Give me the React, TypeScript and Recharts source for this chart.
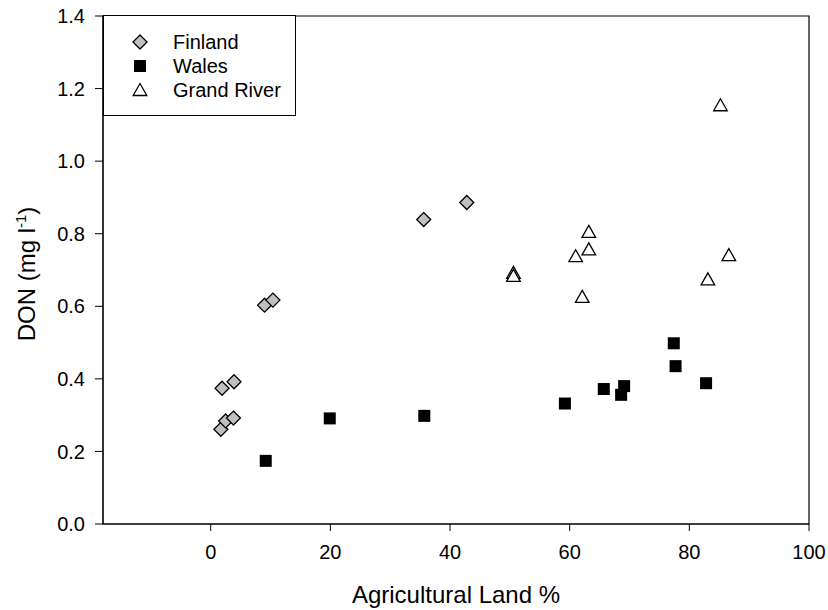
import React from "react"
import { ScatterChart, Scatter, XAxis, YAxis, Legend, ReferenceArea } from "recharts"

// agricultural land (%) vs dissolved organic nitrogen (mg l-1)
const finland = [
  { x: 1.7, y: 0.261 },
  { x: 2.5, y: 0.284 },
  { x: 3.8, y: 0.292 },
  { x: 1.9, y: 0.374 },
  { x: 3.9, y: 0.392 },
  { x: 9.0, y: 0.603 },
  { x: 10.4, y: 0.617 },
  { x: 35.6, y: 0.839 },
  { x: 42.8, y: 0.886 },
]

const wales = [
  { x: 9.2, y: 0.174 },
  { x: 19.9, y: 0.291 },
  { x: 35.7, y: 0.298 },
  { x: 59.2, y: 0.332 },
  { x: 65.7, y: 0.372 },
  { x: 68.6, y: 0.356 },
  { x: 69.1, y: 0.38 },
  { x: 77.4, y: 0.498 },
  { x: 77.7, y: 0.435 },
  { x: 82.8, y: 0.388 },
]

const grandRiver = [
  { x: 50.6, y: 0.692 },
  { x: 50.6, y: 0.684 },
  { x: 61.0, y: 0.738 },
  { x: 62.1, y: 0.626 },
  { x: 63.2, y: 0.757 },
  { x: 63.2, y: 0.805 },
  { x: 83.1, y: 0.674 },
  { x: 85.2, y: 1.154 },
  { x: 86.6, y: 0.741 },
]

const xTicks = [0, 20, 40, 60, 80, 100]
const yTicks = [0, 0.2, 0.4, 0.6, 0.8, 1.0, 1.2, 1.4]
const xDomain = [-18, 100]
const yDomain = [0, 1.4]

const FONT = "'Liberation Sans', Arial, sans-serif"

const Diamond = ({ cx, cy }: any) => (
  <path
    d={`M${cx},${cy - 7} L${cx + 7},${cy} L${cx},${cy + 7} L${cx - 7},${cy} Z`}
    fill="#c0c0c0"
    stroke="#000"
    strokeWidth={1.3}
  />
)

const Square = ({ cx, cy }: any) => (
  <rect x={cx - 6} y={cy - 6} width={12} height={12} fill="#000" />
)

const Triangle = ({ cx, cy }: any) => (
  <path
    d={`M${cx},${cy - 6.5} L${cx + 6.8},${cy + 5.5} L${cx - 6.8},${cy + 5.5} Z`}
    fill="#fff"
    stroke="#000"
    strokeWidth={1.3}
  />
)

const legendItems = [
  { name: "Finland", Shape: Diamond },
  { name: "Wales", Shape: Square },
  { name: "Grand River", Shape: Triangle },
]

const LegendBox = () => (
  <div
    style={{
      width: 193,
      height: 101,
      border: "1px solid #000",
      background: "#fff",
      boxSizing: "border-box",
      paddingTop: 14,
      fontFamily: FONT,
      fontSize: 20,
      color: "#000",
    }}
  >
    {legendItems.map(({ name, Shape }) => (
      <div key={name} style={{ display: "flex", alignItems: "center", height: 24 }}>
        <svg width={69} height={24}>
          <Shape cx={36} cy={12} />
        </svg>
        <span style={{ lineHeight: "24px" }}>{name}</span>
      </div>
    ))}
  </div>
)

const YLabel = ({ viewBox }: any) => {
  const x = viewBox.x + 35
  const y = 274
  return (
    <text
      x={x}
      y={y}
      transform={`rotate(-90, ${x}, ${y})`}
      textAnchor="middle"
      fontFamily={FONT}
      fontSize={24}
      fill="#000"
    >
      DON (mg l
      <tspan dy={-9} fontSize={15}>-1</tspan>
      <tspan dy={9}>)</tspan>
    </text>
  )
}

const XLabel = ({ viewBox }: any) => (
  <text
    x={viewBox.x + viewBox.width / 2}
    y={viewBox.y + 79}
    textAnchor="middle"
    fontFamily={FONT}
    fontSize={24}
    fill="#000"
  >
    Agricultural Land %
  </text>
)

const tickStyle = { fill: "#000", fontFamily: FONT, fontSize: 20 }

export default function App() {
  return (
    <div style={{ position: "absolute", left: 0, top: 0, background: "#fff" }}>
      <ScatterChart
        width={828}
        height={610}
        margin={{ top: 16, right: 19, bottom: 0, left: 0 }}
      >
        <XAxis
          type="number"
          dataKey="x"
          domain={xDomain}
          ticks={xTicks}
          allowDataOverflow
          height={86}
          stroke="#000"
          tickSize={7}
          tickMargin={14}
          tick={tickStyle}
          label={<XLabel />}
        />
        <YAxis
          type="number"
          dataKey="y"
          domain={yDomain}
          ticks={yTicks}
          allowDataOverflow
          width={103}
          stroke="#000"
          tickSize={8}
          tickMargin={10}
          tickFormatter={(v: number) => v.toFixed(1)}
          tick={tickStyle}
          label={<YLabel />}
        />
        {/* plot frame */}
        <ReferenceArea
          x1={xDomain[0]}
          x2={xDomain[1]}
          y1={yDomain[0]}
          y2={yDomain[1]}
          fill="none"
          stroke="#000"
          strokeWidth={1.2}
          ifOverflow="visible"
        />
        <Scatter name="Finland" data={finland} shape={Diamond} isAnimationActive={false} />
        <Scatter name="Wales" data={wales} shape={Square} isAnimationActive={false} />
        <Scatter name="Grand River" data={grandRiver} shape={Triangle} isAnimationActive={false} />
        <Legend
          layout="vertical"
          align="center"
          verticalAlign="middle"
          content={<LegendBox />}
          wrapperStyle={{ position: "absolute", left: 103, top: 15, width: 193, height: 101 }}
        />
      </ScatterChart>
    </div>
  )
}
